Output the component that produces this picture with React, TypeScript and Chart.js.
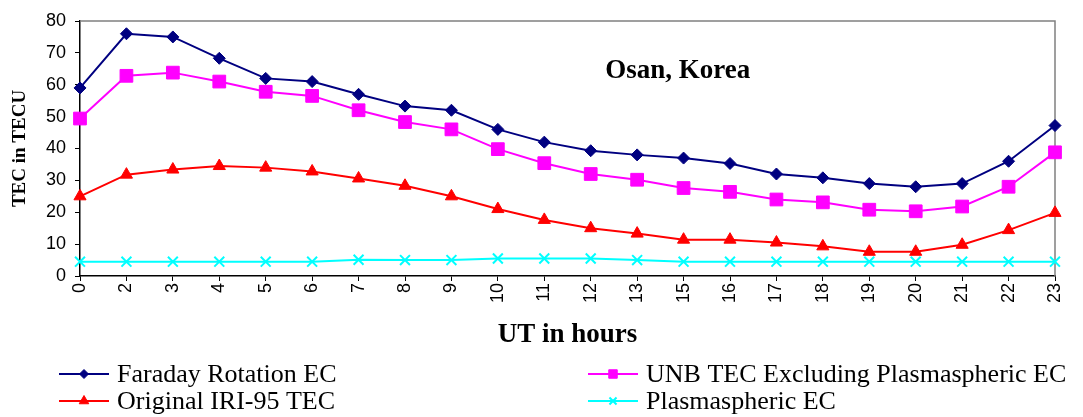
import React, { useEffect, useRef } from "react";
import { Chart, registerables } from "chart.js";
import * as helpers from "chart.js/helpers";

Chart.register(...registerables);

const hours = ["0", "2", "3", "4", "5", "6", "7", "8", "9", "10", "11", "12", "13", "15", "16", "17", "18", "19", "20", "21", "22", "23"];
const faraday = [59, 76, 75, 68.3, 62, 61, 57, 53.3, 52, 46, 42, 39.3, 38, 37, 35.3, 32, 30.8, 29, 28, 29, 36, 47.2];
const unb = [49.4, 62.8, 63.8, 61, 57.8, 56.5, 52, 48.3, 46, 39.8, 35.4, 32, 30.2, 27.6, 26.4, 24, 23.1, 20.8, 20.3, 21.8, 28, 38.8];
const iri = [25, 31.8, 33.4, 34.5, 34, 32.8, 30.6, 28.3, 25, 21, 17.6, 15, 13.3, 11.4, 11.4, 10.5, 9.3, 7.6, 7.6, 9.8, 14.4, 19.8];
const plasma = [4.5, 4.5, 4.5, 4.5, 4.5, 4.5, 5.1, 5, 5, 5.5, 5.5, 5.5, 5, 4.5, 4.5, 4.5, 4.5, 4.5, 4.5, 4.5, 4.5, 4.5];
const yTicks = [0, 10, 20, 30, 40, 50, 60, 70, 80];

const seriesNames = ["Faraday Rotation EC", "UNB TEC Excluding Plasmaspheric EC", "Original IRI-95 TEC", "Plasmaspheric EC"];
const colors = ["#000080", "#FF00FF", "#FF0000", "#00FFFF"];
const styles = ["rectRot", "rect", "triangle", "crossRot"];
const radii = [6, 9, 7, 7];
const legendRadii = [4.5, 6, 5.5, 5];

const serif = "'Liberation Serif', 'Times New Roman', serif";
const sans = "'Liberation Sans', Arial, sans-serif";

const extrasPlugin = {
  id: "extras",
  beforeDatasetsDraw(chart: any) {
    const { ctx, chartArea } = chart;
    ctx.save();
    ctx.strokeStyle = "#808080";
    ctx.lineWidth = 1.5;
    ctx.beginPath();
    ctx.moveTo(chartArea.left, chartArea.top);
    ctx.lineTo(chartArea.right, chartArea.top);
    ctx.lineTo(chartArea.right, chartArea.bottom);
    ctx.stroke();
    ctx.restore();
  },
  afterDraw(chart: any) {
    const { ctx, chartArea } = chart;
    ctx.save();
    ctx.fillStyle = "#000";
    ctx.font = `bold 27px ${serif}`;
    ctx.textAlign = "center";
    ctx.textBaseline = "middle";
    ctx.fillText("Osan, Korea", chartArea.left + (chartArea.right - chartArea.left) * 0.613, 71);

    const pos = [
      { lx: 59, ly: 374 },
      { lx: 588, ly: 374 },
      { lx: 59, ly: 401 },
      { lx: 588, ly: 401 },
    ];
    chart.data.datasets.forEach((ds: any, i: number) => {
      const p = pos[i];
      const lineLen = 50;
      ctx.strokeStyle = ds.borderColor;
      ctx.lineWidth = 2;
      ctx.beginPath();
      ctx.moveTo(p.lx, p.ly);
      ctx.lineTo(p.lx + lineLen, p.ly);
      ctx.stroke();
      ctx.fillStyle = ds.pointBackgroundColor;
      ctx.strokeStyle = ds.pointBorderColor;
      ctx.lineWidth = ds.pointBorderWidth;
      (helpers as any).drawPoint(ctx, { pointStyle: ds.pointStyle, radius: legendRadii[i], borderWidth: ds.pointBorderWidth, rotation: 0 }, p.lx + lineLen / 2, p.ly);
      ctx.fillStyle = "#000";
      ctx.font = `26px ${serif}`;
      ctx.textAlign = "left";
      ctx.textBaseline = "alphabetic";
      ctx.fillText(ds.label, p.lx + lineLen + 8, p.ly + 8);
    });
    ctx.restore();
  },
};

export default function App() {
  const ref = useRef<HTMLCanvasElement>(null);
  useEffect(() => {
    if (!ref.current) return;
    const datasets = [faraday, unb, iri, plasma].map((d, i) => ({
      label: seriesNames[i],
      data: d,
      borderColor: colors[i],
      backgroundColor: colors[i],
      pointBackgroundColor: colors[i],
      pointBorderColor: colors[i],
      pointStyle: styles[i],
      pointRadius: radii[i],
      pointBorderWidth: i === 3 ? 2 : 1,
      borderWidth: 2,
      tension: 0,
    }));
    const chart = new Chart(ref.current, {
      type: "line",
      data: { labels: hours, datasets },
      plugins: [extrasPlugin],
      options: {
        animation: false,
        responsive: false,
        maintainAspectRatio: false,
        layout: { padding: { top: 21, right: 28, left: 0, bottom: 66 } },
        plugins: { legend: { display: false }, tooltip: { enabled: false } },
        scales: {
          x: {
            offset: false,
            afterFit: (s: any) => {
              s.height = 75;
            },
            grid: { display: true, drawOnChartArea: false, drawTicks: true, tickLength: 5, color: "#000" },
            border: { display: true, color: "#000", width: 1.5 },
            ticks: { minRotation: 90, maxRotation: 90, autoSkip: false, color: "#000", font: { family: sans, size: 18 }, padding: 2 },
            title: { display: true, text: "UT in hours", color: "#000", font: { family: serif, size: 27, weight: "bold" }, padding: { top: 0, bottom: 0 } },
          },
          y: {
            min: 0,
            max: 80,
            afterBuildTicks: (s: any) => {
              s.ticks = yTicks.map((v) => ({ value: v }));
            },
            afterFit: (s: any) => {
              s.width = 80;
            },
            grid: { display: true, drawOnChartArea: false, drawTicks: true, tickLength: 5, color: "#000" },
            border: { display: true, color: "#000", width: 1.5 },
            ticks: { color: "#000", font: { family: sans, size: 18 }, padding: 9 },
            title: { display: true, text: "TEC in TECU", color: "#000", font: { family: serif, size: 19, weight: "bold" }, padding: { top: 9, bottom: 4 } },
          },
        },
      },
    });
    return () => chart.destroy();
  }, []);
  return (
    <div style={{ position: "fixed", left: 0, top: 0, width: 1083, height: 417, background: "#fff" }}>
      <canvas ref={ref} width={1083} height={417} style={{ width: 1083, height: 417 }} />
    </div>
  );
}
